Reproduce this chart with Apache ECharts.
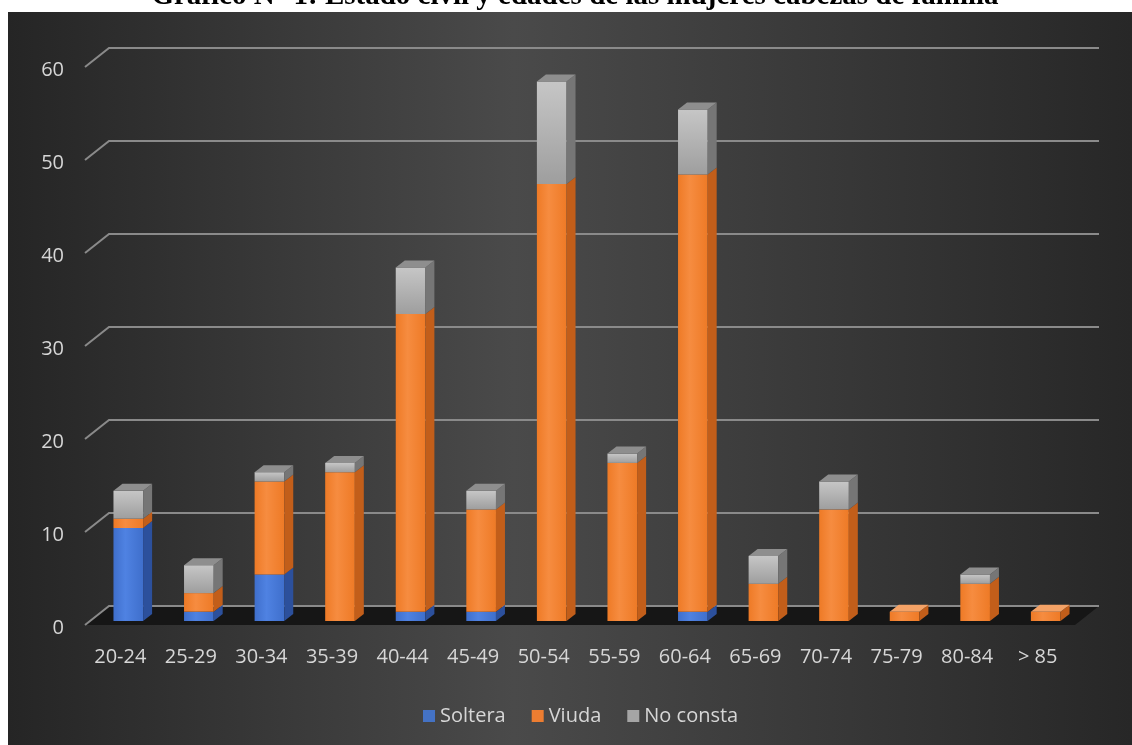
<!DOCTYPE html>
<html>
<head>
<meta charset="utf-8">
<script src="https://cdn.jsdelivr.net/npm/echarts@6/dist/echarts.min.js"></script>
<style>
  html, body { margin: 0; padding: 0; background: #ffffff; }
  #chart { width: 1132px; height: 745px; }
</style>
</head>
<body>
<div id="chart"></div>
<script>
// data
const categorias = ['20-24', '25-29', '30-34', '35-39', '40-44', '45-49', '50-54',
  '55-59', '60-64', '65-69', '70-74', '75-79', '80-84', '> 85'];
const soltera = [10, 1, 5, 0, 1, 1, 0, 0, 1, 0, 0, 0, 0, 0];
const viuda = [1, 2, 10, 16, 32, 11, 47, 17, 47, 4, 12, 1, 4, 1];
const noConsta = [3, 3, 1, 1, 5, 2, 11, 1, 7, 3, 3, 0, 1, 0];
const yTicks = [0, 10, 20, 30, 40, 50, 60];
const titulo = 'Gráfico N° 1: Estado civil y edades de las mujeres cabezas de familia';

// 3d look: bar depth and back wall offset
const BAR_DX = 9, BAR_DY = -7;
const WALL_DX = 24, WALL_DY = -19;

const palettes = {
  'Soltera': { front: ['#4f82e2', '#3f6fcc'], side: '#2c509c', top: '#6e96e6', legend: '#4472c4' },
  'Viuda': { front: ['#f68c40', '#ee7a26'], side: '#c25e1a', top: '#f4a266', legend: '#ed7d31' },
  'No consta': { front: ['#c6c6c6', '#9e9e9e'], side: '#767676', top: '#8e8e8e', legend: '#a5a5a5', vertical: true }
};

// stack the three groups into [index, lo, hi, isTop] rows
const groups = [['Soltera', soltera], ['Viuda', viuda], ['No consta', noConsta]];
const stacked = {};
categorias.forEach(function (c, i) {
  let base = 0;
  let lastName = null;
  groups.forEach(function (g) { if (g[1][i] > 0) lastName = g[0]; });
  groups.forEach(function (g) {
    const name = g[0], v = g[1][i];
    stacked[name] = stacked[name] || [];
    stacked[name].push([i, base, base + v, name === lastName ? 1 : 0]);
    base += v;
  });
});

function renderBar(pal) {
  return function (params, api) {
    const i = api.value(0), lo = api.value(1), hi = api.value(2), isTop = api.value(3);
    if (hi <= lo) return null;
    const pLo = api.coord([i, lo]);
    const pHi = api.coord([i, hi]);
    const w = api.size([1, 0])[0] * 0.42;
    const xL = pLo[0] - w / 2, xR = xL + w;
    const frontFill = pal.vertical
      ? new echarts.graphic.LinearGradient(0, 0, 0, 1, [
          { offset: 0, color: pal.front[0] },
          { offset: 1, color: pal.front[1] }
        ])
      : new echarts.graphic.LinearGradient(0, 0, 1, 0, [
          { offset: 0, color: pal.front[1] },
          { offset: 0.4, color: pal.front[0] },
          { offset: 1, color: pal.front[1] }
        ]);
    const children = [
      {
        type: 'rect',
        shape: { x: xL, y: pHi[1], width: w, height: pLo[1] - pHi[1] },
        style: { fill: frontFill }
      },
      {
        type: 'polygon',
        shape: { points: [[xR, pLo[1]], [xR + BAR_DX, pLo[1] + BAR_DY], [xR + BAR_DX, pHi[1] + BAR_DY], [xR, pHi[1]]] },
        style: { fill: pal.side }
      }
    ];
    if (isTop) {
      children.push({
        type: 'polygon',
        shape: { points: [[xL, pHi[1]], [xL + BAR_DX, pHi[1] + BAR_DY], [xR + BAR_DX, pHi[1] + BAR_DY], [xR, pHi[1]]] },
        style: { fill: pal.top }
      });
    }
    return { type: 'group', children: children };
  };
}

const series = [
  // floor
  {
    type: 'custom',
    silent: true,
    z: 1,
    data: [[0, 0]],
    renderItem: function (params, api) {
      const cs = params.coordSys;
      const y0 = api.coord([0, 0])[1] + 4;
      const xf = cs.x - 8, xb = cs.x + cs.width + 18;
      return {
        type: 'polygon',
        shape: { points: [[xf, y0], [xf + WALL_DX, y0 + WALL_DY], [xb, y0 + WALL_DY], [xb - WALL_DX, y0]] },
        style: { fill: '#161616' }
      };
    }
  },
  // grid lines: side wall diagonal + back wall line
  {
    type: 'custom',
    silent: true,
    z: 1,
    data: yTicks.map(function (v) { return [0, v]; }),
    renderItem: function (params, api) {
      const cs = params.coordSys;
      const y = api.coord([0, api.value(1)])[1] + 4;
      const xf = cs.x - 8, xb = cs.x + cs.width + 18;
      return {
        type: 'polyline',
        shape: { points: [[xf, y], [xf + WALL_DX, y + WALL_DY], [xb, y + WALL_DY]] },
        style: { stroke: '#8a8a8a', lineWidth: 2, fill: null }
      };
    }
  }
];

groups.forEach(function (g) {
  const pal = palettes[g[0]];
  series.push({
    name: g[0],
    type: 'custom',
    z: 3,
    itemStyle: { color: pal.legend },
    encode: { x: 0, y: [1, 2] },
    data: stacked[g[0]],
    renderItem: renderBar(pal)
  });
});

const chart = echarts.init(document.getElementById('chart'));
chart.setOption({
  backgroundColor: '#ffffff',
  animation: false,
  graphic: [
    {
      type: 'text',
      z: -20,
      x: 575,
      y: -3,
      style: {
        text: titulo,
        fill: '#000000',
        font: 'bold 29px "Liberation Serif", "Times New Roman", serif',
        align: 'center',
        verticalAlign: 'middle'
      }
    },
    {
      type: 'rect',
      z: -10,
      shape: { x: 8, y: 12, width: 1124, height: 733 },
      style: {
        fill: new echarts.graphic.LinearGradient(0, 0, 1, 0, [
          { offset: 0, color: '#252525' },
          { offset: 0.45, color: '#4a4a4a' },
          { offset: 1, color: '#272727' }
        ])
      }
    }
  ],
  grid: { left: 93, right: 51, top: 63, bottom: 124 },
  xAxis: {
    type: 'category',
    data: categorias,
    axisLine: { show: false },
    axisTick: { show: false },
    axisLabel: {
      color: '#d6d6d6',
      fontSize: 20,
      fontFamily: '"Open Sans", sans-serif',
      margin: 26,
      padding: [0, 16, 0, 0]
    }
  },
  yAxis: {
    type: 'value',
    min: 0,
    max: 60,
    interval: 10,
    axisLine: { show: false },
    axisTick: { show: false },
    splitLine: { show: false },
    axisLabel: {
      color: '#d6d6d6',
      fontSize: 20,
      fontFamily: '"Open Sans", sans-serif',
      margin: 29,
      verticalAlign: 'top',
      lineHeight: 14
    }
  },
  legend: {
    bottom: 14,
    left: 418,
    icon: 'rect',
    itemWidth: 12,
    itemHeight: 12,
    itemGap: 26,
    textStyle: { color: '#d6d6d6', fontSize: 20, fontFamily: '"Open Sans", sans-serif' },
    data: ['Soltera', 'Viuda', 'No consta']
  },
  series: series
});
</script>
</body>
</html>
